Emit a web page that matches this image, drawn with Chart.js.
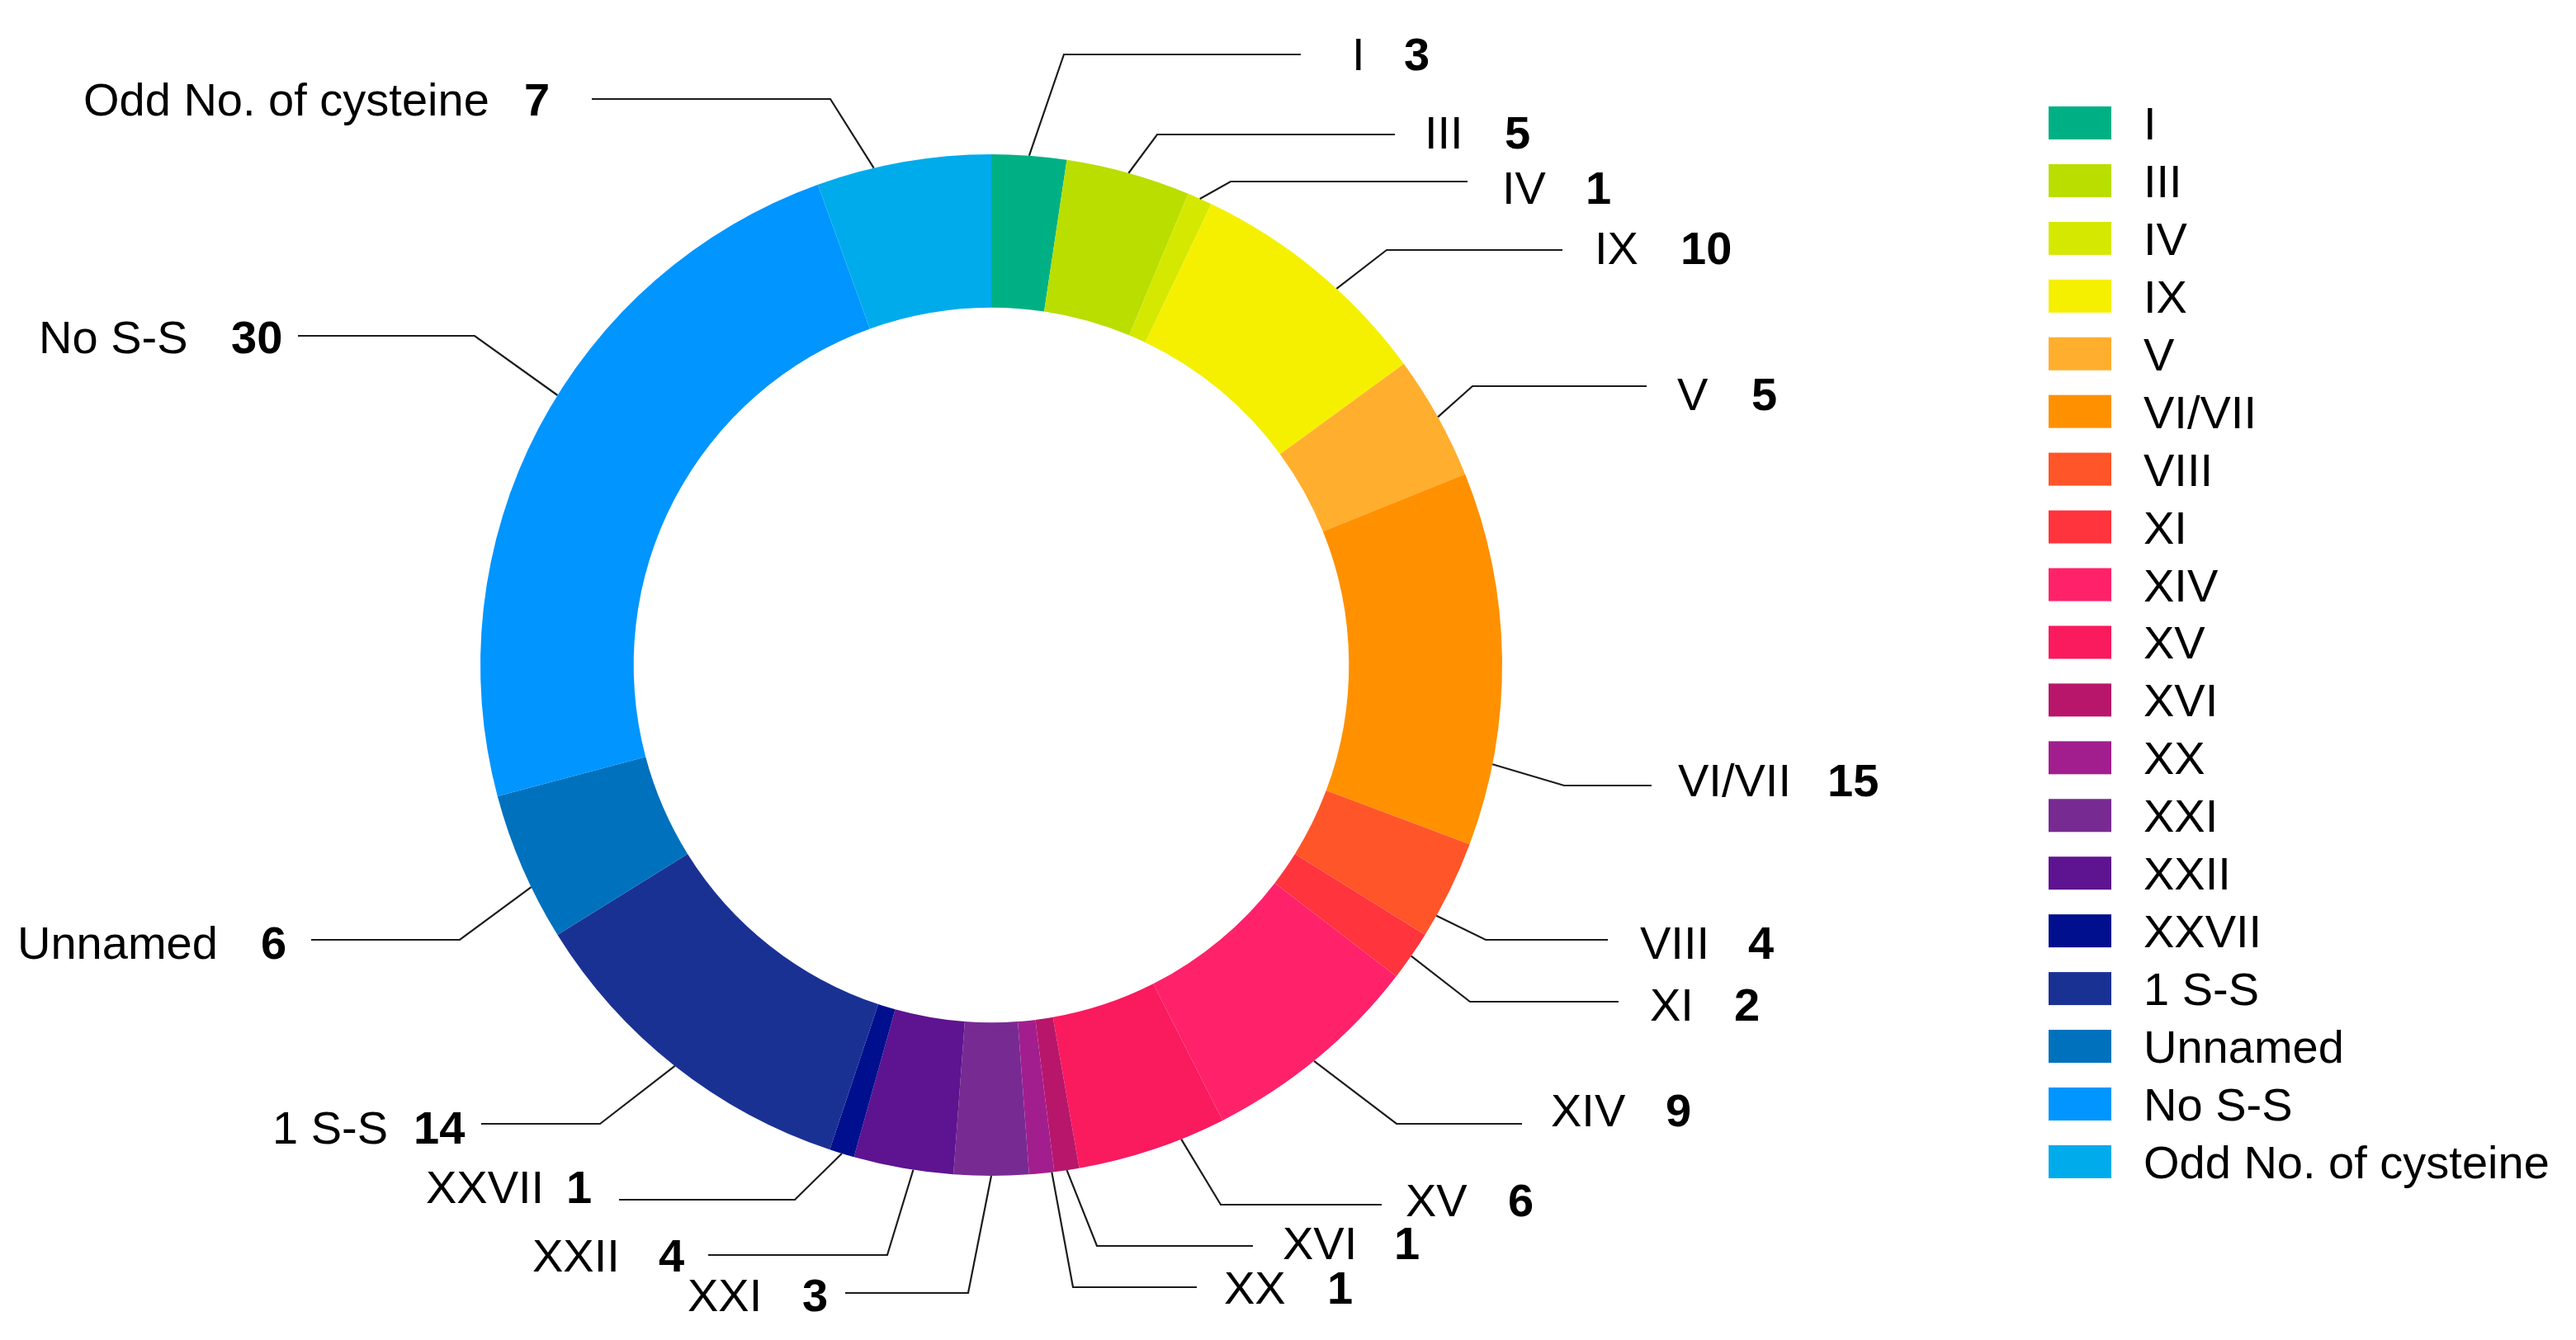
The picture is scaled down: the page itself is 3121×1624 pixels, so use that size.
<!DOCTYPE html>
<html>
<head>
<meta charset="utf-8">
<script src="https://cdn.jsdelivr.net/npm/chart.js@4.4.1/dist/chart.umd.min.js"></script>
<style>
html,body{margin:0;padding:0;background:#ffffff;}
canvas{display:block;}
</style>
</head>
<body>
<canvas id="c" width="3121" height="1624"></canvas>
<script>
// ---- data ----
const categories = ['I','III','IV','IX','V','VI/VII','VIII','XI','XIV','XV','XVI','XX','XXI','XXII','XXVII','1 S-S','Unnamed','No S-S','Odd No. of cysteine'];
const counts = [3,5,1,10,5,15,4,2,9,6,1,1,3,4,1,14,6,30,7];
const sliceColors = ['#00B085','#B9DE00','#D5E800','#F5F000','#FFAE2E','#FF9100','#FF5529','#FF343D','#FF226B','#FA1A5E','#B8166A','#A21E8E','#782A93','#5E1390','#000F8E','#1A3194','#0071BD','#0095FF','#00ABEB'];

// ---- callout layout (offsets from ring centre, px): [nameX, textY, numberX, elbowX, elbowY, lineEndX, fractionAlongSlice] ----
const calloutLayout = [
  [437,-741,500, 88,-740,375,0.5],
  [525,-646,622, 201,-643,489,0.5],
  [619,-579,720, 290,-586,577,0.5],
  [731,-506,835, 479,-503,692,0.6],
  [831,-329,921, 583,-338,794,0.5],
  [832,139,1013, 694,146,800,0.78],
  [786,336,917, 599,333,747,0.78],
  [798,411,900, 580,408,760,0.5],
  [678,539,817, 491,556,643,0.52],
  [502,648,626, 278,654,473,0.3],
  [353,700,488, 128,704,317,0.5],
  [282,754,407, 99,754,249,0.1],
  [-368,763,-229, -28,761,-177,0.5],
  [-556,715,-403, -126,715,-343,0.4],
  [-685,632,-515, -238,648,-451,0.5],
  [-871,560,-700, -474,556,-618,0.5],
  [-1180,336,-885, -644,333,-824,0.36],
  [-1154,-398,-921, -626,-399,-840,0.55],
  [-1100,-686,-566, -195,-686,-484,0.33]
];

// ---- legend layout ----
const legendBox = {x: 2482, y: 129, w: 76, h: 40, step: 69.94, textX: 2597};
const FONT = '"Liberation Sans", Arial, Helvetica, sans-serif';

const calloutPlugin = {
  id: 'callouts',
  afterDatasetsDraw(chart) {
    const ctx = chart.ctx;
    const meta = chart.getDatasetMeta(0);
    const bg = chart.data.datasets[0].backgroundColor;
    ctx.save();
    meta.data.forEach((arc, i) => {
      const p = arc.getProps(['x','y','startAngle','endAngle','outerRadius'], true);
      const L = calloutLayout[i];
      const a = p.startAngle + L[6] * (p.endAngle - p.startAngle);
      const sx = p.x + Math.cos(a) * p.outerRadius;
      const sy = p.y + Math.sin(a) * p.outerRadius;
      ctx.beginPath();
      ctx.moveTo(sx, sy);
      ctx.lineTo(p.x + L[3], p.y + L[4]);
      ctx.lineTo(p.x + L[5], p.y + L[4]);
      ctx.strokeStyle = '#1c1c1c';
      ctx.lineWidth = 2.2;
      ctx.lineJoin = 'miter';
      ctx.stroke();
      ctx.fillStyle = '#000';
      ctx.textAlign = 'left';
      ctx.textBaseline = 'alphabetic';
      ctx.font = '56px ' + FONT;
      ctx.fillText(chart.data.labels[i], p.x + L[0], p.y + L[1] + 20);
      ctx.font = 'bold 56px ' + FONT;
      ctx.fillText(String(chart.data.datasets[0].data[i]), p.x + L[2], p.y + L[1] + 20);
    });
    // legend
    chart.data.labels.forEach((lab, i) => {
      const y = legendBox.y + i * legendBox.step;
      ctx.fillStyle = bg[i];
      ctx.fillRect(legendBox.x, y, legendBox.w, legendBox.h);
      ctx.fillStyle = '#000';
      ctx.font = '56px ' + FONT;
      ctx.textAlign = 'left';
      ctx.textBaseline = 'alphabetic';
      ctx.fillText(lab, legendBox.textX, y + legendBox.h / 2 + 20);
    });
    ctx.restore();
  }
};

new Chart(document.getElementById('c'), {
  type: 'doughnut',
  data: {
    labels: categories,
    datasets: [{
      data: counts,
      backgroundColor: sliceColors,
      borderWidth: 0,
      hoverOffset: 0,
      offset: 0
    }]
  },
  options: {
    responsive: false,
    animation: false,
    events: [],
    cutout: '70%',
    layout: {padding: {left: 582, right: 1301, top: 187, bottom: 199}},
    plugins: {legend: {display: false}, tooltip: {enabled: false}}
  },
  plugins: [calloutPlugin]
});
</script>
</body>
</html>
